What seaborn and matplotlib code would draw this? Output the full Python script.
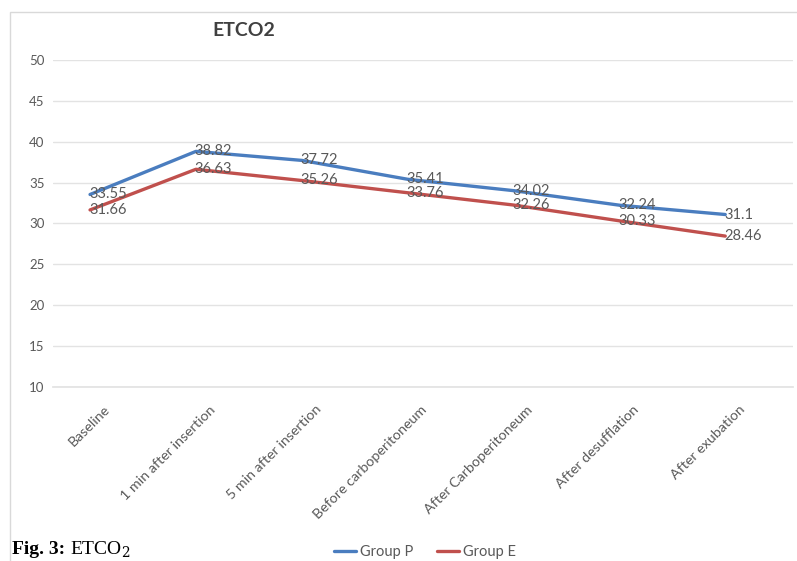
import numpy as np
import pandas as pd
import matplotlib
matplotlib.use("Agg")
import matplotlib.pyplot as plt
from matplotlib.transforms import ScaledTranslation
from matplotlib.lines import Line2D
from matplotlib.patches import Rectangle
import seaborn as sns

# ETCO2 readings per time point
timepoints = ["Baseline", "1 min after insertion", "5 min after insertion",
              "Before carboperitoneum", "After Carboperitoneum",
              "After desufflation", "After exubation"]
group_p = [33.55, 38.82, 37.72, 35.41, 34.02, 32.24, 31.1]
group_e = [31.66, 36.63, 35.26, 33.76, 32.26, 30.33, 28.46]
p_labels = ["33.55", "38.82", "37.72", "35.41", "34.02", "32.24", "31.1"]
e_labels = ["31.66", "36.63", "35.26", "33.76", "32.26", "30.33", "28.46"]
yticks = [10, 15, 20, 25, 30, 35, 40, 45, 50]

sns.set_theme(style="white")
plt.rcParams["font.family"] = ["Lato", "DejaVu Sans"]

BLUE = "#4a7dbf"
RED = "#c0504d"
GREY = "#595959"

df = pd.DataFrame({
    "pos": list(range(len(timepoints))) * 2,
    "value": group_p + group_e,
    "group": ["Group P"] * len(timepoints) + ["Group E"] * len(timepoints),
})

fig = plt.figure(figsize=(7.97, 5.61), dpi=100)
# outer chart frame
fig.patches.append(Rectangle((10 / 797, -0.01), 0.99, 1 - 12 / 561 + 0.01,
                             transform=fig.transFigure, fill=False,
                             edgecolor="#d9d9d9", linewidth=1.0))

ax = fig.add_axes([53 / 797, 1 - 387 / 561, (793 - 53) / 797, (387 - 60) / 561])
sns.lineplot(data=df, x="pos", y="value", hue="group",
             palette={"Group P": BLUE, "Group E": RED},
             linewidth=2.4, legend=False, ax=ax, sort=False)

ax.set_xlim(-0.35, 6.64)
ax.set_ylim(10, 50)
ax.set_yticks(yticks)
ax.set_yticklabels([str(v) for v in yticks], color=GREY, fontsize=9.5)
ax.yaxis.grid(True, color="#e3e3e3", linewidth=1.0)
ax.set_axisbelow(True)
for s in ["top", "right", "left"]:
    ax.spines[s].set_visible(False)
ax.spines["bottom"].set_color("#e3e3e3")
ax.tick_params(axis="both", length=0, pad=6)
ax.set_xlabel("")
ax.set_ylabel("")

ax.set_xticks(range(len(timepoints)))
ax.set_xticklabels(timepoints, rotation=45, ha="right", va="top",
                   rotation_mode="anchor", color=GREY, fontsize=10.3)
shift = ScaledTranslation(13 / 100, -8 / 100, fig.dpi_scale_trans)
for lbl in ax.get_xticklabels():
    lbl.set_transform(lbl.get_transform() + shift)

# value labels sit to the right of each point
for i in range(len(timepoints)):
    ax.text(i - 0.01, group_p[i], p_labels[i], ha="left", va="center",
            fontsize=10.5, color=GREY)
    ax.text(i - 0.01, group_e[i], e_labels[i], ha="left", va="center",
            fontsize=10.5, color=GREY)

fig.text(244 / 797, 1 - 30 / 561, "ETCO2", ha="center", va="center",
         fontsize=14, fontweight="bold", color="#404040")

handles = [Line2D([], [], color=BLUE, linewidth=2.4),
           Line2D([], [], color=RED, linewidth=2.4)]
fig.legend(handles, ["Group P", "Group E"], loc="center",
           bbox_to_anchor=(425 / 797, 1 - 552 / 561), ncol=2, frameon=False,
           fontsize=10.5, handlelength=1.5, handletextpad=0.3, columnspacing=1.6,
           labelcolor=GREY)

# figure caption
fig.text(12 / 797, 1 - 554 / 561, "Fig. 3:", ha="left", va="baseline",
         fontsize=14, fontweight="bold", family="Liberation Serif", color="black")
fig.text(70 / 797, 1 - 554 / 561, "ETCO$_2$", ha="left", va="baseline",
         fontsize=14, family="Liberation Serif", color="black",
         math_fontfamily="dejavuserif")

fig.savefig("out.png", dpi=100)
